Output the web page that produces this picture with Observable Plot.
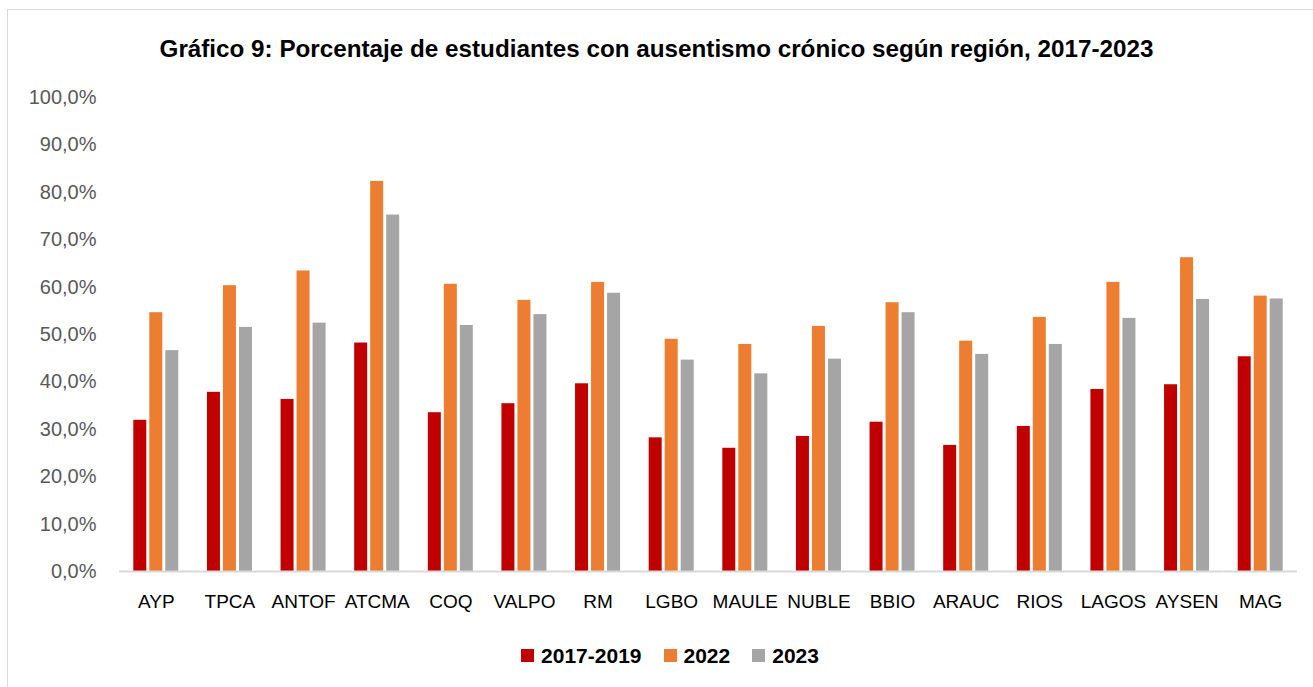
<!DOCTYPE html>
<html>
<head>
<meta charset="utf-8">
<script src="https://cdn.jsdelivr.net/npm/d3@7"></script>
<script src="https://cdn.jsdelivr.net/npm/@observablehq/plot@0.6"></script>
<style>
  html, body { margin: 0; padding: 0; background: #fff; overflow: hidden; }
  #wrap { position: relative; width: 1313px; height: 687px; overflow: hidden; }
  #frame { position: absolute; left: 7px; top: 9px; width: 1330px; height: 700px; border: 1px solid #d9d9d9; box-sizing: border-box; }
  #title { position: absolute; left: 0; width: 1313px; top: 37px; text-align: center; font-family: "Liberation Sans", Arial, sans-serif; font-weight: bold; color: #000; white-space: nowrap; line-height: 1; }
  #title span { display: inline-block; }
  #chart { position: absolute; left: 0; top: 0; }
  #legend { position: absolute; left: 0; width: 1313px; box-sizing: border-box; padding-left: 27px; top: 644px; text-align: center; font-family: "Liberation Sans", Arial, sans-serif; font-weight: bold; font-size: 21px; color: #000; line-height: 22px; }
  .item { display: inline-flex; align-items: center; margin: 0 11px; }
  .sw { display: inline-block; width: 13px; height: 13px; margin-right: 7px; }
</style>
</head>
<body>
<div id="wrap">
  <div id="frame"></div>
  <div id="chart"></div>
  <div id="title"><span id="tspan">Gráfico 9: Porcentaje de estudiantes con ausentismo crónico según región, 2017-2023</span></div>
  <div id="legend"></div>
</div>
<script>
const regions = ["AYP","TPCA","ANTOF","ATCMA","COQ","VALPO","RM","LGBO","MAULE","NUBLE","BBIO","ARAUC","RIOS","LAGOS","AYSEN","MAG"];
const seriesNames = ["2017-2019","2022","2023"];
const v2017_2019 = [31.9,37.8,36.3,48.2,33.5,35.4,39.6,28.2,26.0,28.5,31.5,26.6,30.6,38.4,39.4,45.3];
const v2022 =      [54.6,60.3,63.4,82.3,60.6,57.2,61.0,49.0,47.9,51.7,56.7,48.6,53.6,61.0,66.2,58.1];
const v2023 =      [46.6,51.5,52.4,75.2,51.9,54.2,58.7,44.6,41.7,44.8,54.6,45.8,47.9,53.4,57.4,57.5];
const colors = ["#C00000","#ED7D31","#A5A5A5"];
const yTicks = [0,10,20,30,40,50,60,70,80,90,100];

const seriesValues = [v2017_2019, v2022, v2023];
const data = [];
regions.forEach((r, i) => {
  seriesNames.forEach((s, j) => data.push({region: r, series: s, value: seriesValues[j][i]}));
});

const fmt = d => d.toFixed(1).replace(".", ",") + "%";

const chart = Plot.plot({
  width: 1313,
  height: 687,
  marginLeft: 119,
  marginRight: 16,
  marginTop: 97,
  marginBottom: 116,
  style: {fontFamily: "'Liberation Sans', Arial, sans-serif", background: "transparent", overflow: "visible"},
  fx: {domain: regions, padding: 0, round: false, label: null, axis: null},
  x: {domain: seriesNames, paddingInner: 0.1875, paddingOuter: 0.894, round: false, axis: null},
  y: {domain: [0, 100], label: null},
  color: {domain: seriesNames, range: colors},
  marks: [
    Plot.axisY({ticks: yTicks, tickFormat: fmt, tickSize: 0, tickPadding: 23, fontSize: 20, fill: "#595959", label: null}),
    Plot.axisFx({anchor: "bottom", tickSize: 0, tickPadding: 23, fontSize: 19, fill: "#000", label: null}),
    Plot.barY(data, {fx: "region", x: "series", y: "value", fill: "series"}),
    Plot.ruleY([0], {stroke: "#d9d9d9", strokeWidth: 2})
  ]
});
document.getElementById("chart").appendChild(chart);

// fit title to reference width
const tspan = document.getElementById("tspan");
let fs = 22;
tspan.style.fontSize = fs + "px";
const w = tspan.getBoundingClientRect().width;
fs = fs * 994 / w;
tspan.style.fontSize = fs.toFixed(2) + "px";

// legend
const legend = document.getElementById("legend");
seriesNames.forEach((s, i) => {
  const item = document.createElement("span");
  item.className = "item";
  const sw = document.createElement("span");
  sw.className = "sw";
  sw.style.background = colors[i];
  item.appendChild(sw);
  item.appendChild(document.createTextNode(s));
  legend.appendChild(item);
});
</script>
</body>
</html>
